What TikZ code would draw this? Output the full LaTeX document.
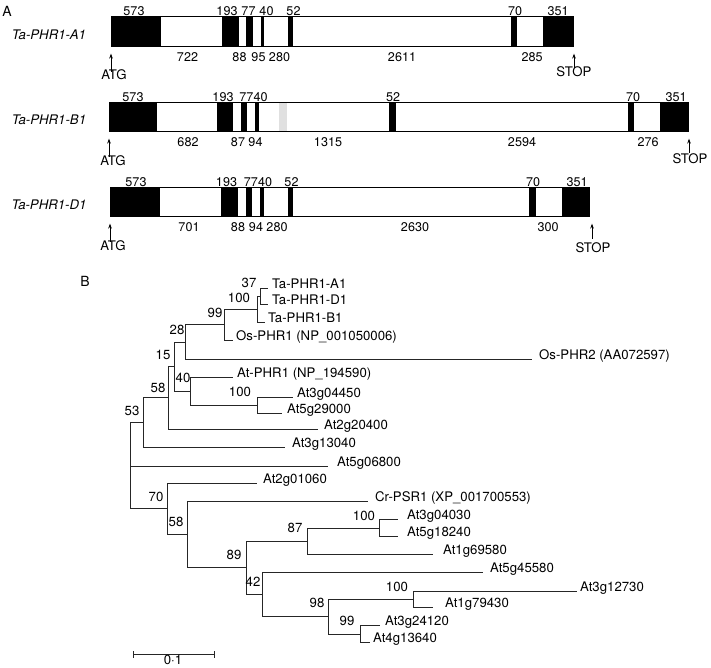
\documentclass[tikz,border=0pt]{standalone}
\usepackage{fontspec}
\setmainfont{TeX Gyre Heros}
\usetikzlibrary{arrows.meta}
\begin{document}
\begin{tikzpicture}[x=1pt,y=-1pt,
  every node/.style={inner sep=0pt, anchor=base, yshift=-4.6pt, font=\fontsize{13.2}{15}\selectfont},
  exlab/.style={font=\fontsize{12.6}{15}\selectfont},
  gname/.style={font=\fontsize{13.2}{15}\selectfont\itshape},
  panel/.style={font=\fontsize{14}{16}\selectfont},
  leaf/.style={anchor=base west},
  exon/.style={fill=black},
  greyexon/.style={fill=black!12},
  boxline/.style={line width=1pt},
  siteArrow/.style={-{Stealth[length=5pt,width=3.6pt]}, line width=0.8pt},
  branch/.style={line width=0.9pt, draw=black!85},
]
\useasboundingbox (0,0) rectangle (711,668);

% ---------------- Panel A ----------------
\node[panel] (pA) at (7,12) {A};

% Ta-PHR1-A1
\node[gname] (gA) at (49,35) {Ta-PHR1-A1};
\draw[boxline] (111,17) -- (574,17) (111,47) -- (574,47);
\fill[exon] (111,17) rectangle (161,47);
\fill[exon] (222,17) rectangle (239,47);
\fill[exon] (246,17) rectangle (253,47);
\fill[exon] (261,17) rectangle (264,47);
\fill[exon] (288,17) rectangle (293,47);
\fill[exon] (511,17) rectangle (517,47);
\fill[exon] (543,17) rectangle (574,47);
\node[exlab] (a1t1) at (134,11) {573};
\node[exlab] (a1t2) at (227,11) {193};
\node[exlab] (a1t3) at (248.5,11) {77};
\node[exlab] (a1t4) at (266.5,11) {40};
\node[exlab] (a1t5) at (293.5,11) {52};
\node[exlab] (a1t6) at (515,11) {70};
\node[exlab] (a1t7) at (558,11) {351};
\node[exlab] (a1b1) at (187.5,57) {722};
\node[exlab] (a1b2) at (239.5,57) {88};
\node[exlab] (a1b3) at (258.5,57) {95};
\node[exlab] (a1b4) at (279.5,57) {280};
\node[exlab] (a1b5) at (402,57) {2611};
\node[exlab] (a1b6) at (532,57) {285};
\coordinate (a1s0) at (111,67); \coordinate (a1s1) at (111,49);
\draw[siteArrow] (a1s0) -- (a1s1);
\node (a1atg) at (114,75) {ATG};
\coordinate (a1e0) at (574,63); \coordinate (a1e1) at (574,49);
\draw[siteArrow] (a1e0) -- (a1e1);
\node (a1stop) at (574,72) {STOP};

% Ta-PHR1-B1
\node[gname] (gB) at (49,120) {Ta-PHR1-B1};
\draw[boxline] (109,103) -- (689,103) (109,132) -- (689,132);
\fill[exon] (109,103) rectangle (157,132);
\fill[exon] (217,103) rectangle (233,132);
\fill[exon] (241,103) rectangle (247,132);
\fill[exon] (255,103) rectangle (259,132);
\fill[greyexon] (279,103.5) rectangle (287,131.5);
\fill[exon] (389,103) rectangle (396,132);
\fill[exon] (628,103) rectangle (634,132);
\fill[exon] (660,103) rectangle (689,132);
\node[exlab] (b1t1) at (133,97) {573};
\node[exlab] (b1t2) at (223,97) {193};
\node[exlab] (b1t3) at (253.5,97) {7740};
\node[exlab] (b1t4) at (393,97) {52};
\node[exlab] (b1t5) at (633,97) {70};
\node[exlab] (b1t6) at (676,97) {351};
\node[exlab] (b1b1) at (188,142) {682};
\node[exlab] (b1b2) at (238,142) {87};
\node[exlab] (b1b3) at (255.5,142) {94};
\node[exlab] (b1b4) at (328,142) {1315};
\node[exlab] (b1b5) at (522,142) {2594};
\node[exlab] (b1b6) at (648,142) {276};
\coordinate (b1s0) at (109,152); \coordinate (b1s1) at (109,134);
\draw[siteArrow] (b1s0) -- (b1s1);
\node (b1atg) at (113,161) {ATG};
\coordinate (b1e0) at (689,148); \coordinate (b1e1) at (689,134);
\draw[siteArrow] (b1e0) -- (b1e1);
\node (b1stop) at (690,159) {STOP};

% Ta-PHR1-D1
\node[gname] (gD) at (49,205) {Ta-PHR1-D1};
\draw[boxline] (110,188) -- (590,188) (110,217) -- (590,217);
\fill[exon] (110,188) rectangle (160,217);
\fill[exon] (221,188) rectangle (238,217);
\fill[exon] (246,188) rectangle (252,217);
\fill[exon] (260,188) rectangle (264,217);
\fill[exon] (288,188) rectangle (293,217);
\fill[exon] (529,188) rectangle (536,217);
\fill[exon] (562,188) rectangle (590,217);
\node[exlab] (d1t1) at (136,182) {573};
\node[exlab] (d1t2) at (226.5,182) {193};
\node[exlab] (d1t3) at (258,182) {7740};
\node[exlab] (d1t4) at (291.5,182) {52};
\node[exlab] (d1t5) at (533,182) {70};
\node[exlab] (d1t6) at (577,182) {351};
\node[exlab] (d1b1) at (189,227) {701};
\node[exlab] (d1b2) at (238,227) {88};
\node[exlab] (d1b3) at (256,227) {94};
\node[exlab] (d1b4) at (277,227) {280};
\node[exlab] (d1b5) at (415,227) {2630};
\node[exlab] (d1b6) at (548,227) {300};
\coordinate (d1s0) at (110,237); \coordinate (d1s1) at (110,219);
\draw[siteArrow] (d1s0) -- (d1s1);
\node (d1atg) at (113,246) {ATG};
\coordinate (d1e0) at (592,234); \coordinate (d1e1) at (592,219);
\draw[siteArrow] (d1e0) -- (d1e1);
\node (d1stop) at (593,248) {STOP};

% ---------------- Panel B ----------------
\node[panel] (pB) at (85,282) {B};

% internal nodes
\coordinate (n37) at (260,292);
\coordinate (n100a) at (257,305);
\coordinate (n99) at (224,320);
\coordinate (n28) at (185,338);
\coordinate (n100b) at (257,401);
\coordinate (n40) at (190,387);
\coordinate (n15) at (174,362);
\coordinate (n58a) at (168,393);
\coordinate (n53) at (143,418);
\coordinate (root) at (130,461);
\coordinate (n70) at (167,504);
\coordinate (n58b) at (187,530);
\coordinate (n89) at (246,563);
\coordinate (n87) at (307,537);
\coordinate (n100c) at (379,524);
\coordinate (n42) at (262,590);
\coordinate (n98) at (328,612);
\coordinate (n100d) at (413,595);
\coordinate (n99b) at (360,630);

% leaf line ends
\coordinate (eA1) at (268,284);
\coordinate (eD1) at (268,300);
\coordinate (eB1) at (265,318);
\coordinate (eOs1) at (233,336);
\coordinate (eOs2) at (532,355);
\coordinate (eAtP) at (233,373);
\coordinate (e0445) at (293,393);
\coordinate (e2900) at (282,409);
\coordinate (e2040) at (318,425);
\coordinate (e1304) at (285,443);
\coordinate (e0680) at (328,462);
\coordinate (e0106) at (257,479);
\coordinate (eCr) at (368,497);
\coordinate (e0403) at (398,515);
\coordinate (e1824) at (398,532);
\coordinate (e6958) at (433,550);
\coordinate (e4558) at (483,568);
\coordinate (e1273) at (577,587);
\coordinate (e7943) at (433,603);
\coordinate (e2412) at (380,621);
\coordinate (e1364) at (370,638);

% internal edges
\draw[branch] (n100a) |- (n37);
\draw[branch] (n99) |- (n100a);
\draw[branch] (n28) |- (n99);
\draw[branch] (n15) |- (n28);
\draw[branch] (n40) |- (n100b);
\draw[branch] (n15) |- (n40);
\draw[branch] (n58a) |- (n15);
\draw[branch] (n53) |- (n58a);
\draw[branch] (root) |- (n53);
\draw[branch] (root) |- (n70);
\draw[branch] (n70) |- (n58b);
\draw[branch] (n58b) |- (n89);
\draw[branch] (n89) |- (n87);
\draw[branch] (n87) |- (n100c);
\draw[branch] (n89) |- (n42);
\draw[branch] (n42) |- (n98);
\draw[branch] (n98) |- (n100d);
\draw[branch] (n98) |- (n99b);

% leaf edges
\draw[branch] (n37) |- (eA1);
\draw[branch] (n37) |- (eD1);
\draw[branch] (n100a) |- (eB1);
\draw[branch] (n99) |- (eOs1);
\draw[branch] (n28) |- (eOs2);
\draw[branch] (n40) |- (eAtP);
\draw[branch] (n100b) |- (e0445);
\draw[branch] (n100b) |- (e2900);
\draw[branch] (n58a) |- (e2040);
\draw[branch] (n53) |- (e1304);
\draw[branch] (root) |- (e0680);
\draw[branch] (n70) |- (e0106);
\draw[branch] (n58b) |- (eCr);
\draw[branch] (n100c) |- (e0403);
\draw[branch] (n100c) |- (e1824);
\draw[branch] (n87) |- (e6958);
\draw[branch] (n42) |- (e4558);
\draw[branch] (n100d) |- (e1273);
\draw[branch] (n100d) |- (e7943);
\draw[branch] (n99b) |- (e2412);
\draw[branch] (n99b) |- (e1364);

% leaf labels
\node[leaf] (lA1) at (272,284) {Ta-PHR1-A1};
\node[leaf] (lD1) at (272,300) {Ta-PHR1-D1};
\node[leaf] (lB1) at (268,318) {Ta-PHR1-B1};
\node[leaf] (lOs1) at (236,336) {Os-PHR1 (NP\_001050006)};
\node[leaf] (lOs2) at (539,355) {Os-PHR2 (AA072597)};
\node[leaf] (lAtP) at (237,373) {At-PHR1 (NP\_194590)};
\node[leaf] (l0445) at (297,393) {At3g04450};
\node[leaf] (l2900) at (287,409) {At5g29000};
\node[leaf] (l2040) at (324,425) {At2g20400};
\node[leaf] (l1304) at (292,443) {At3g13040};
\node[leaf] (l0680) at (337,462) {At5g06800};
\node[leaf] (l0106) at (263,479) {At2g01060};
\node[leaf] (lCr) at (375,497) {Cr-PSR1 (XP\_001700553)};
\node[leaf] (l0403) at (407,515) {At3g04030};
\node[leaf] (l1824) at (407,532) {At5g18240};
\node[leaf] (l6958) at (443,550) {At1g69580};
\node[leaf] (l4558) at (490,568) {At5g45580};
\node[leaf] (l1273) at (580,587) {At3g12730};
\node[leaf] (l7943) at (445,603) {At1g79430};
\node[leaf] (l2412) at (385,621) {At3g24120};
\node[leaf] (l1364) at (373,638) {At4g13640};

% bootstrap values
\node (b37) at (249,283) {37};
\node (b100a) at (239,298) {100};
\node (b99) at (215,313) {99};
\node (b28) at (177,330) {28};
\node (b15) at (163,355) {15};
\node (b40) at (183,378) {40};
\node (b58a) at (158,388) {58};
\node (b100b) at (240,392) {100};
\node (b53) at (132,411) {53};
\node (b70) at (156,497) {70};
\node (b58b) at (176,522) {58};
\node (b100c) at (364,516) {100};
\node (b87) at (295,528) {87};
\node (b89) at (234,555) {89};
\node (b42) at (253,582) {42};
\node (b98) at (317,603) {98};
\node (b100d) at (397,587) {100};
\node (b99b) at (347,621) {99};

% scale bar
\coordinate (sb0) at (133,650);
\coordinate (sb1) at (214,650);
\draw[branch] (sb0) -- (sb1);
\draw[branch] ([yshift=3.5pt]sb0) -- ([yshift=-3.5pt]sb0);
\draw[branch] ([yshift=3.5pt]sb1) -- ([yshift=-3.5pt]sb1);
\node (sbl) at (173,660) {0·1};
\end{tikzpicture}
\end{document}
